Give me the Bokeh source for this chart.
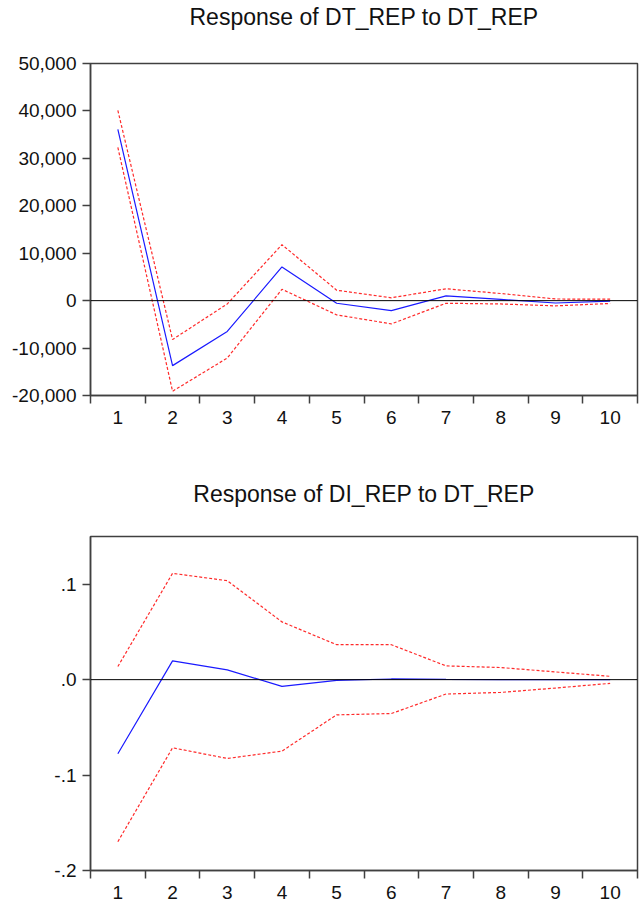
from bokeh.plotting import figure
from bokeh.layouts import column
from bokeh.models import FixedTicker, NumeralTickFormatter, CustomJSTickFormatter, Span, Range1d, Title
from bokeh.embed import file_html
from bokeh.resources import INLINE

periods = [1, 2, 3, 4, 5, 6, 7, 8, 9, 10]

dt_resp = [36100, -13700, -6500, 7100, -550, -2100, 1000, 250, -500, -100]
dt_upper = [40100, -8200, -700, 11800, 2200, 600, 2500, 1500, 350, 300]
dt_lower = [32300, -19100, -12100, 2400, -3000, -4900, -550, -700, -1100, -600]
dt_yticks = [-20000, -10000, 0, 10000, 20000, 30000, 40000, 50000]

di_resp = [-0.0777, 0.0197, 0.0102, -0.007, -0.0007, 0.0007, 0.0002, 0.0001, 0.0, 0.0]
di_upper = [0.0137, 0.1114, 0.1037, 0.0605, 0.0366, 0.0366, 0.0144, 0.0127, 0.0081, 0.0035]
di_lower = [-0.1698, -0.0714, -0.0826, -0.0749, -0.0369, -0.0355, -0.0151, -0.0134, -0.0088, -0.0039]
di_yticks = [-0.2, -0.1, 0.0, 0.1]

titles = ["Response of DT_REP to DT_REP", "Response of DI_REP to DT_REP"]

FONT = "Liberation Sans"
FRAME = "#404040"
BLUE = "#1a1aff"
RED = "#ff2a2a"

bounds = [p - 0.5 for p in periods] + [periods[-1] + 0.5]


def make(title, resp, upper, lower, yticks, yr, height, top_border, bottom_border, gap, fmt):
    p = figure(width=639, height=height, output_backend="svg", toolbar_location=None,
               x_range=Range1d(bounds[0], bounds[-1]), y_range=Range1d(*yr),
               min_border_left=90, min_border_right=2,
               min_border_top=top_border, min_border_bottom=bottom_border)
    p.title.text = ""
    # spacer between title and frame
    p.add_layout(Title(text=" ", text_font_size="2px", standoff=gap), "above")
    p.add_layout(Title(text=title, align="center", text_font=FONT, text_font_size="23px",
                       text_font_style="normal", text_color="#111111", standoff=4,
                       vertical_align="top"), "above")
    p.grid.visible = False
    p.outline_line_color = FRAME
    p.outline_line_width = 1.5
    p.outline_line_alpha = 1

    xa = p.xaxis[0]
    xa.ticker = FixedTicker(ticks=periods, minor_ticks=bounds)
    xa.major_tick_line_color = None
    xa.minor_tick_line_color = FRAME
    xa.minor_tick_line_width = 1.5
    xa.minor_tick_out = 8
    xa.minor_tick_in = 0
    xa.axis_line_color = FRAME
    xa.axis_line_width = 1.5
    xa.major_label_text_font = FONT
    xa.major_label_text_font_size = "19px"
    xa.major_label_text_color = "#111111"
    xa.major_label_standoff = 7

    ya = p.yaxis[0]
    ya.ticker = FixedTicker(ticks=yticks)
    ya.minor_tick_line_color = None
    ya.major_tick_line_color = FRAME
    ya.major_tick_line_width = 1.5
    ya.major_tick_out = 8
    ya.major_tick_in = 0
    ya.axis_line_color = FRAME
    ya.axis_line_width = 1.5
    ya.major_label_text_font = FONT
    ya.major_label_text_font_size = "19px"
    ya.major_label_text_color = "#111111"
    ya.major_label_standoff = 6
    ya.formatter = fmt

    p.add_layout(Span(location=0, dimension="width", line_color="#000000", line_width=1))
    p.line(periods, upper, line_color=RED, line_width=1.2, line_dash="3 2")
    p.line(periods, lower, line_color=RED, line_width=1.2, line_dash="3 2")
    p.line(periods, resp, line_color=BLUE, line_width=1.2)
    return p


p1 = make(titles[0], dt_resp, dt_upper, dt_lower, dt_yticks, (-20000, 50000), 477, 63, 82, 26,
          NumeralTickFormatter(format="0,0"))
p2 = make(titles[1], di_resp, di_upper, di_lower, di_yticks, (-0.2, 0.15), 424, 59, 31, 22,
          CustomJSTickFormatter(code='return tick.toFixed(1).replace("0.", ".");'))

layout = column(p1, p2, spacing=0)
open("out.html", "w").write(file_html(layout, INLINE))
